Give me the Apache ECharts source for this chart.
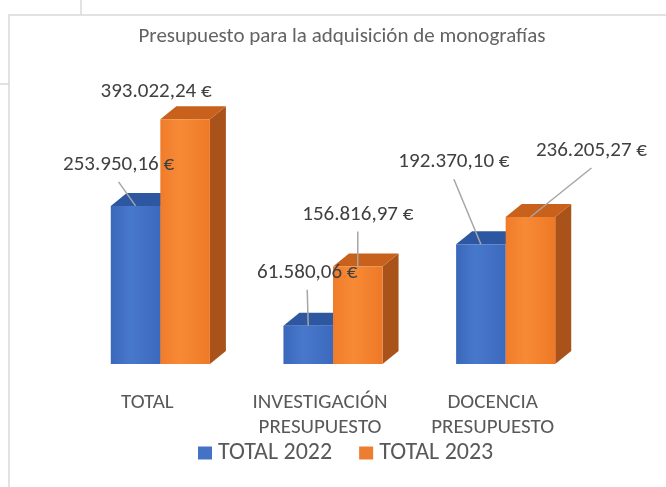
<!DOCTYPE html>
<html>
<head>
<meta charset="utf-8">
<title>Presupuesto monografías</title>
<script src="https://cdn.jsdelivr.net/npm/echarts@6/dist/echarts.min.js"></script>
<style>
    html, body { margin: 0; padding: 0; background: #fff; }
    #chart { width: 666px; height: 487px; }
</style>
</head>
<body>
<div id="chart"></div>
<script>
    // datos del gráfico (euros)
    let categories = ['TOTAL', 'INVESTIGACIÓN PRESUPUESTO', 'DOCENCIA PRESUPUESTO'];
    let total2022 = [253950.16, 61580.06, 192370.10];
    let total2023 = [393022.24, 156816.97, 236205.27];
    let seriesNames = ['TOTAL 2022', 'TOTAL 2023'];

    // colocación de las etiquetas respecto a la cara superior de cada barra (px)
    let labelOffsets = [
        [[-17, -41], [-1, -53], [-27, -82]],
        [[-29, -28], [0, -52], [61, -66]]
    ];
    let leaderLines = [
        [true, true, true],
        [false, true, true]
    ];

    let FONT = 'Carlito, Lato, "Open Sans", sans-serif';
    let DEPTH_X = 16, DEPTH_Y = 13, BAR_RATIO = 0.287;

    let palettes = [
        {
            front: new echarts.graphic.LinearGradient(0, 0, 1, 0, [
                { offset: 0, color: '#3a68bb' },
                { offset: 0.4, color: '#4878cc' },
                { offset: 1, color: '#3b69bd' }
            ]),
            top: '#2e57a2',
            side: '#2a4f93'
        },
        {
            front: new echarts.graphic.LinearGradient(0, 0, 1, 0, [
                { offset: 0, color: '#f07c2a' },
                { offset: 0.4, color: '#f78a36' },
                { offset: 1, color: '#ee7926' }
            ]),
            top: '#c8611b',
            side: '#a9531b'
        }
    ];

    function euro(v) {
        let parts = v.toFixed(2).split('.');
        let ent = parts[0].replace(/\B(?=(\d{3})+(?!\d))/g, '.');
        return ent + ',' + parts[1] + ' €';
    }

    function toData(values) {
        return values.map(function (v, i) { return [i, v]; });
    }

    // barra con caras superior y lateral (efecto 3D)
    function barRender(idx) {
        return function (params, api) {
            let cat = api.value(0);
            let val = api.value(1);
            let w = api.size([1, 0])[0] * BAR_RATIO;
            let top = api.coord([cat, val]);
            let base = api.coord([cat, 0]);
            let x0 = top[0] - w + idx * w;
            let yT = top[1], yB = base[1];
            let c = palettes[idx];
            return {
                type: 'group',
                children: [
                    {
                        type: 'polygon',
                        shape: { points: [[x0 + w, yT], [x0 + w + DEPTH_X, yT - DEPTH_Y], [x0 + w + DEPTH_X, yB - DEPTH_Y], [x0 + w, yB]] },
                        style: { fill: c.side }
                    },
                    {
                        type: 'polygon',
                        shape: { points: [[x0, yT], [x0 + DEPTH_X, yT - DEPTH_Y], [x0 + w + DEPTH_X, yT - DEPTH_Y], [x0 + w, yT]] },
                        style: { fill: c.top }
                    },
                    {
                        type: 'rect',
                        shape: { x: x0, y: yT, width: w, height: yB - yT },
                        style: { fill: c.front }
                    }
                ]
            };
        };
    }

    // etiquetas de datos con línea guía
    function labelRender(idx) {
        return function (params, api) {
            let cat = api.value(0);
            let val = api.value(1);
            let w = api.size([1, 0])[0] * BAR_RATIO;
            let top = api.coord([cat, val]);
            let ax = top[0] - w / 2 + idx * w;
            let ay = top[1];
            let off = labelOffsets[idx][params.dataIndex];
            let lx = ax + off[0], ly = ay + off[1];
            let children = [];
            if (leaderLines[idx][params.dataIndex]) {
                children.push({
                    type: 'line',
                    shape: { x1: lx, y1: ly + 17, x2: ax, y2: ay },
                    style: { stroke: '#a6a6a6', lineWidth: 1.5 }
                });
            }
            children.push({
                type: 'text',
                x: lx,
                y: ly,
                style: {
                    text: euro(val),
                    fill: '#404040',
                    fontFamily: FONT,
                    fontSize: 21,
                    align: 'center',
                    verticalAlign: 'middle'
                }
            });
            return { type: 'group', children: children };
        };
    }

    let myChart = echarts.init(document.getElementById('chart'));
    let option = {
        backgroundColor: '#ffffff',
        animation: false,
        title: {
            text: 'Presupuesto para la adquisición de monografías',
            left: 342,
            textAlign: 'center',
            top: 26,
            padding: 0,
            textStyle: { fontFamily: FONT, fontSize: 21, fontWeight: 'normal', color: '#636363' }
        },
        legend: {
            data: seriesNames,
            left: 198,
            top: 441,
            padding: 0,
            icon: 'rect',
            itemWidth: 14,
            itemHeight: 13,
            itemGap: 27,
            textStyle: { fontFamily: FONT, fontSize: 24, color: '#595959', padding: [0, 0, 0, 1] }
        },
        grid: { left: 74, right: 74, top: 115, bottom: 123 },
        xAxis: {
            type: 'category',
            data: categories,
            axisLine: { show: false },
            axisTick: { show: false },
            axisLabel: {
                interval: 0,
                formatter: function (v) { return v.replace(' ', '\n'); },
                fontFamily: FONT,
                fontSize: 21,
                lineHeight: 25,
                color: '#595959',
                margin: 26,
                padding: [0, 26, 0, 0]
            }
        },
        yAxis: { type: 'value', min: 0, max: 400000, show: false },
        graphic: [
            { type: 'rect', shape: { x: 9, y: 15, width: 700, height: 500 }, style: { fill: null, stroke: '#d9d9d9', lineWidth: 1.5 }, silent: true },
            { type: 'line', shape: { x1: 81, y1: 0, x2: 81, y2: 15 }, style: { stroke: '#d9d9d9', lineWidth: 1.5 }, silent: true },
            { type: 'line', shape: { x1: 0, y1: 84, x2: 9, y2: 84 }, style: { stroke: '#d9d9d9', lineWidth: 1.5 }, silent: true }
        ],
        series: [
            { name: seriesNames[0], type: 'custom', z: 2, data: toData(total2022), itemStyle: { color: '#4472C4' }, renderItem: barRender(0) },
            { name: seriesNames[1], type: 'custom', z: 3, data: toData(total2023), itemStyle: { color: '#ED7D31' }, renderItem: barRender(1) },
            { name: 'lbl2022', type: 'custom', z: 10, silent: true, data: toData(total2022), renderItem: labelRender(0) },
            { name: 'lbl2023', type: 'custom', z: 10, silent: true, data: toData(total2023), renderItem: labelRender(1) }
        ]
    };
    myChart.setOption(option);
</script>
</body>
</html>
